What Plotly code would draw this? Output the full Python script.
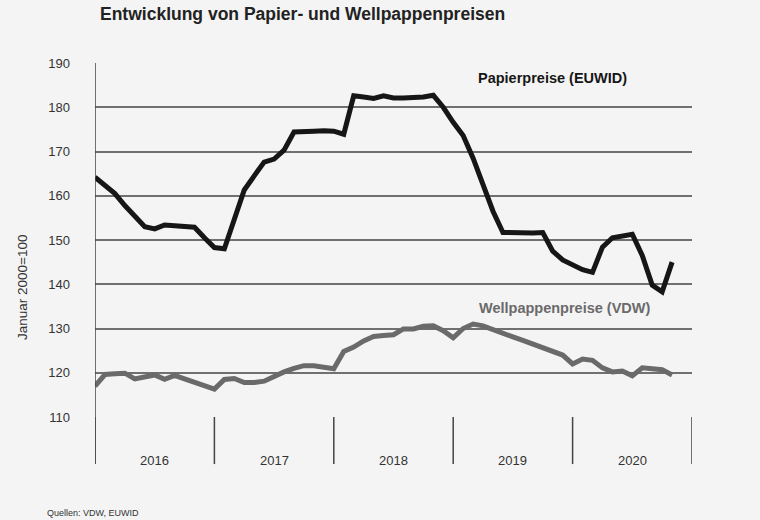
import plotly.graph_objects as go

# Monthly index: 0 = Jan 2016 ... 58 = Nov 2020
months = list(range(59))

papier = [164.2, 162.3, 160.5, 157.8, 155.3, 153.0, 152.5, 153.4, 153.2, 153.1,
          152.9, 150.5, 148.3, 148.0, 154.5, 161.3, 164.5, 167.6, 168.3, 170.3,
          174.4, 174.6, 174.6, 174.7, 174.6, 173.9, 182.6, 182.3, 182.0, 182.6,
          182.1, 182.1, 182.2, 182.3, 182.7, 180.0, 176.6, 173.6, 168.5, 162.5,
          156.5, 151.7, 151.6, 151.5, 151.6, 151.7, 147.5, 145.5, 144.3, 143.3,
          142.7, 148.4, 150.5, 150.9, 151.3, 146.5, 139.8, 138.3, 145.0]

wellpappe = [117.0, 119.6, 119.8, 119.9, 118.6, 119.0, 119.5, 118.5, 119.4, 118.6,
             117.8, 117.0, 116.3, 118.5, 118.7, 117.8, 117.8, 118.1, 119.2, 120.2,
             121.0, 121.6, 121.6, 121.3, 120.9, 124.8, 125.8, 127.2, 128.2, 128.4,
             128.6, 129.9, 129.9, 130.5, 130.6, 129.5, 127.9, 130.0, 131.0, 130.6,
             129.7, 128.7, 128.1, 127.3, 126.5, 125.7, 124.8, 124.0, 122.0, 123.1,
             122.8, 121.1, 120.2, 120.4, 119.3, 121.1, 120.9, 120.7, 119.5]

years = ["2016", "2017", "2018", "2019", "2020"]
year_starts = [0, 12, 24, 36, 48, 60]
y_ticks = [110, 120, 130, 140, 150, 160, 170, 180, 190]

BG = "#f4f4f4"
FONT = "Liberation Sans, Arial, sans-serif"

fig = go.Figure()
fig.add_trace(go.Scatter(x=months, y=wellpappe, mode="lines",
                         line=dict(color="#6a6a6a", width=5), hoverinfo="skip"))
fig.add_trace(go.Scatter(x=months, y=papier, mode="lines",
                         line=dict(color="#161616", width=5), hoverinfo="skip"))

shapes = []
for xs in year_starts:
    shapes.append(dict(type="line", xref="x", yref="paper", x0=xs, x1=xs,
                       y0=0, y1=-0.133, line=dict(color="#444", width=1.5)))
shapes.append(dict(type="line", xref="x", yref="paper", x0=0, x1=0,
                   y0=1, y1=-0.133, line=dict(color="#444", width=1.5)))

annotations = []
for i, yr in enumerate(years):
    annotations.append(dict(x=year_starts[i] + 6, y=-0.124, xref="x", yref="paper",
                            text=yr, showarrow=False, xanchor="center", yanchor="middle",
                            font=dict(family=FONT, size=13, color="#333")))
annotations += [
    dict(x=(552 - 95) / 597, y=(417 - 78) / 354, xref="paper", yref="paper",
         text="<b>Papierpreise (EUWID)</b>", showarrow=False,
         xanchor="center", yanchor="middle",
         font=dict(family=FONT, size=14.5, color="#161616")),
    dict(x=(565 - 95) / 597, y=(417 - 308) / 354, xref="paper", yref="paper",
         text="<b>Wellpappenpreise (VDW)</b>", showarrow=False,
         xanchor="center", yanchor="middle",
         font=dict(family=FONT, size=14.5, color="#6a6a6a")),
    dict(x=(22 - 95) / 597, y=(417 - 288) / 354, xref="paper", yref="paper",
         text="Januar 2000=100", showarrow=False, textangle=-90,
         xanchor="center", yanchor="middle",
         font=dict(family=FONT, size=13.5, color="#333")),
    dict(x=(45 - 95) / 597, y=(417 - 513) / 354, xref="paper", yref="paper",
         text="Quellen: VDW, EUWID", showarrow=False, xanchor="left", yanchor="middle",
         font=dict(family=FONT, size=9, color="#333")),
]

fig.update_layout(
    width=760, height=520,
    paper_bgcolor=BG, plot_bgcolor=BG,
    margin=dict(l=95, r=68, t=63, b=103),
    showlegend=False,
    title=dict(text="<b>Entwicklung von Papier- und Wellpappenpreisen</b>",
               x=100 / 760, xanchor="left", y=1 - 14 / 520, yanchor="middle",
               font=dict(family=FONT, size=17.5, color="#222")),
    xaxis=dict(range=[0, 60], showgrid=False, zeroline=False, showticklabels=False,
               showline=False, ticks="", fixedrange=True),
    yaxis=dict(range=[110, 190], tickvals=y_ticks, showgrid=True,
               gridcolor="#707070", gridwidth=1.5, zeroline=False, showline=False,
               ticks="", ticklabelstandoff=24,
               tickfont=dict(family=FONT, size=13, color="#333"), fixedrange=True),
    shapes=shapes,
    annotations=annotations,
)

fig.write_html(
    "out.html",
    config={"displayModeBar": False},
    post_script="document.body.style.margin='0';document.body.style.overflow='hidden';"
                "document.body.style.background='#f4f4f4';",
)
